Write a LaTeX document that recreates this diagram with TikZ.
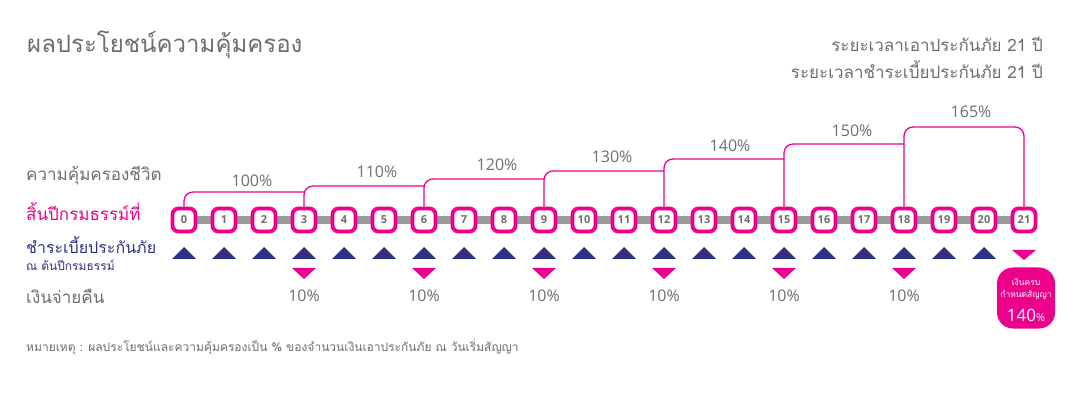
\documentclass[tikz,border=0pt]{standalone}
\usepackage{fontspec}
\setmainfont[Script=Thai]{Loma}
\newfontfamily\numfont{Open Sans}
\usetikzlibrary{positioning, calc, backgrounds}
\definecolor{pinkline}{HTML}{EC008C}
\definecolor{navyprem}{HTML}{2E3180}
\definecolor{greytext}{HTML}{6D6E71}
\definecolor{greybar}{HTML}{9A9A9A}
\tikzset{
  yearbox/.style={rectangle, rounded corners=6pt, minimum size=23pt, inner sep=0pt, draw=pinkline, line width=3.8pt, fill=white, text=greytext, font=\numfont\bfseries\fontsize{11}{11}\selectfont},
  bar/.style={draw=greybar, line width=8pt},
  cover/.style={draw=pinkline, line width=1.3pt, rounded corners=9pt},
  pct/.style={text=greytext, inner sep=0pt, font=\numfont\fontsize{16}{16}\selectfont},
  sidetext/.style={anchor=west, inner sep=0pt, text=greytext, font=\fontsize{17}{17}\selectfont},
  badge/.style={rectangle, rounded corners=16pt, minimum width=58pt, minimum height=61pt, inner sep=0pt, fill=pinkline},
  badgetext/.style={inner sep=0pt, text=white, font=\fontsize{8.5}{8.5}\selectfont}
}
\begin{document}
\begin{tikzpicture}[x=1pt, y=-1pt]
  \useasboundingbox (0,0) rectangle (1068,395);

  % heading and period of cover
  \node (title) [sidetext, font=\fontsize{24}{24}\selectfont] at (27,45) {ผลประโยชน์ความคุ้มครอง};
  \node (period1) [sidetext, anchor=east] at (1043,44) {ระยะเวลาเอาประกันภัย 21 ปี};
  \node (period2) [sidetext, anchor=east] at (1043,70) {ระยะเวลาชำระเบี้ยประกันภัย 21 ปี};

  % row captions
  \node (lifecover) [sidetext] at (26,176) {ความคุ้มครองชีวิต};
  \node (yearend) [sidetext, text=pinkline] at (26,212) {สิ้นปีกรมธรรม์ที่};
  \node (premium) [sidetext, text=navyprem, font=\fontsize{16}{16}\selectfont] at (26,245) {ชำระเบี้ยประกันภัย};
  \node (premstart) [sidetext, text=navyprem, font=\fontsize{12}{12}\selectfont] at (26,265) {ณ ต้นปีกรมธรรม์};
  \node (payback) [sidetext] at (26,296) {เงินจ่ายคืน};

  % policy years
  \foreach \i in {0,...,21} {
    \node (y\i) [yearbox] at (184+40*\i,220) {\i};
  }
  \begin{scope}[on background layer]
    \draw [bar] (y0) -- (y21);
  \end{scope}

  % premiums paid at start of year
  \foreach \i in {0,...,20} {
    \fill [navyprem] ($(y\i)+(-12,39)$) -- ++(24,0) -- ++(-12,-12) -- cycle;
  }

  % cash back every 3 years
  \foreach \i in {3,6,...,18} {
    \fill [pinkline] ($(y\i)+(-12,48)$) -- ++(24,0) -- ++(-12,11) -- cycle;
    \node (pay\i) [pct] at ($(y\i)+(0,76)$) {10\%};
  }
  \fill [pinkline] ($(y21)+(-12,30)$) -- ++(24,0) -- ++(-12,10) -- cycle;
  \node (maturity) [badge] at (1026,298) {};
  \node (mat1) [badgetext] at (1026,282) {เงินครบ};
  \node (mat2) [badgetext] at (1026,295) {กำหนดสัญญา};
  \node (mat3) [badgetext, font=\numfont\fontsize{17}{17}\selectfont] at (1026,315) {140{\fontsize{11}{11}\selectfont\%}};

  % life cover steps
  \draw [cover] (y0.north) |- (y3 |- 0,192);
  \draw [cover] (y3.north) |- (y6 |- 0,186);
  \draw [cover] (y6.north) |- (y9 |- 0,179);
  \draw [cover] (y9.north) |- (y12 |- 0,171);
  \draw [cover] (y12.north) |- (y15 |- 0,159);
  \draw [cover] (y15.north) |- (y18 |- 0,144);
  \draw [cover] (y18.north) |- (0,127 -| y21) -- (y21.north);
  \node (c100) [pct] at (252,181) {100\%};
  \node (c110) [pct] at (377,172) {110\%};
  \node (c120) [pct] at (497,165) {120\%};
  \node (c130) [pct] at (612,157) {130\%};
  \node (c140) [pct] at (730,146) {140\%};
  \node (c150) [pct] at (852,131) {150\%};
  \node (c165) [pct] at (971,112) {165\%};

  % note
  \node (note) [sidetext, font=\fontsize{12}{12}\selectfont] at (26,347) {หมายเหตุ : ผลประโยชน์และความคุ้มครองเป็น \% ของจำนวนเงินเอาประกันภัย ณ วันเริ่มสัญญา};
\end{tikzpicture}
\end{document}
